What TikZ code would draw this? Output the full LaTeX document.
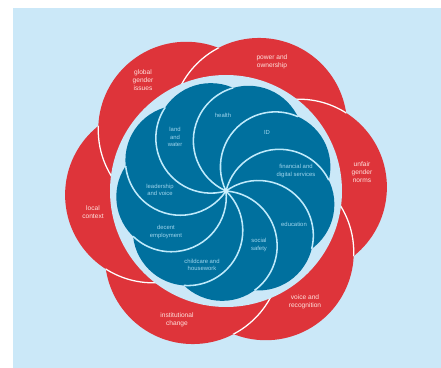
\documentclass[tikz,border=0pt]{standalone}
\usepackage{fontspec}
\setmainfont{Liberation Sans}
\definecolor{panel}{RGB}{203,232,248}
\definecolor{petalred}{RGB}{222,52,58}
\definecolor{swirlblue}{RGB}{0,112,158}
\definecolor{redtext}{RGB}{255,226,222}
\definecolor{bluetext}{RGB}{160,214,238}

\begin{document}
\begin{tikzpicture}[
    x=0.025cm, y=0.025cm,
    petal/.style={fill=petalred},
    seam/.style={draw=white, line width=0.9pt},
    ring/.style={fill=panel},
    swirl/.style={fill=swirlblue},
    curl/.style={draw=white!75!cyan, line width=1.1pt},
    redlabel/.style={font=\fontsize{4.7}{5.8}\selectfont, text=redtext, align=center, inner sep=0pt},
    bluelabel/.style={font=\fontsize{4.2}{5.3}\selectfont, text=bluetext, align=center, inner sep=0pt}
]

\useasboundingbox (-226,-177) rectangle (215,191);
\fill[panel] (-213,-177) rectangle (215,183);

% outer red petals
\coordinate (p0) at (3:73);
\coordinate (p1) at (63:73);
\coordinate (p2) at (123:73);
\coordinate (p3) at (183:73);
\coordinate (p4) at (243:73);
\coordinate (p5) at (303:73);

\fill[petal] (p0) circle (88);
\fill[petal] (p1) circle (88);
\fill[petal] (p2) circle (88);
\fill[petal] (p3) circle (88);
\fill[petal] (p4) circle (88);
\fill[petal] (p5) circle (88);

\begin{scope} \clip (p1) circle (88); \draw[seam] (p0) circle (88); \end{scope}
\begin{scope} \clip (p2) circle (88); \draw[seam] (p1) circle (88); \end{scope}
\begin{scope} \clip (p3) circle (88); \draw[seam] (p2) circle (88); \end{scope}
\begin{scope} \clip (p4) circle (88); \draw[seam] (p3) circle (88); \end{scope}
\begin{scope} \clip (p5) circle (88); \draw[seam] (p4) circle (88); \end{scope}
\begin{scope} \clip (p0) circle (88); \draw[seam] (p5) circle (88); \end{scope}

% gap ring
\coordinate (hub) at (0,0);
\fill[ring] (hub) circle (116);

% inner blue swirl
\coordinate (s0) at (-14:55);
\coordinate (s1) at (26:55);
\coordinate (s2) at (66:55);
\coordinate (s3) at (106:55);
\coordinate (s4) at (146:55);
\coordinate (s5) at (186:55);
\coordinate (s6) at (226:55);
\coordinate (s7) at (266:55);
\coordinate (s8) at (306:55);

\fill[swirl] (s0) circle (55);
\fill[swirl] (s1) circle (55);
\fill[swirl] (s2) circle (55);
\fill[swirl] (s3) circle (55);
\fill[swirl] (s4) circle (55);
\fill[swirl] (s5) circle (55);
\fill[swirl] (s6) circle (55);
\fill[swirl] (s7) circle (55);
\fill[swirl] (s8) circle (55);

\draw[curl] (hub) arc[start angle=166, end angle=26, radius=55];
\draw[curl] (hub) arc[start angle=206, end angle=66, radius=55];
\draw[curl] (hub) arc[start angle=246, end angle=106, radius=55];
\draw[curl] (hub) arc[start angle=286, end angle=146, radius=55];
\draw[curl] (hub) arc[start angle=326, end angle=186, radius=55];
\draw[curl] (hub) arc[start angle=366, end angle=226, radius=55];
\draw[curl] (hub) arc[start angle=406, end angle=266, radius=55];
\draw[curl] (hub) arc[start angle=446, end angle=306, radius=55];
\draw[curl] (hub) arc[start angle=486, end angle=346, radius=55];
\fill[white!80!cyan] (hub) circle (2.5);

% red labels
\node[redlabel] (global) at (-83,111) {global\\gender\\issues};
\node[redlabel] (power) at (46,129) {power and\\ownership};
\node[redlabel] (norms) at (136,19) {unfair\\gender\\norms};
\node[redlabel] (local) at (-133,-21) {local\\context};
\node[redlabel] (change) at (-49,-129) {institutional\\change};
\node[redlabel] (voice) at (79,-111) {voice and\\recognition};

% blue labels
\node[bluelabel] (land) at (-51,54) {land\\and\\water};
\node[bluelabel] (health) at (-3,76) {health};
\node[bluelabel] (id) at (41,59) {ID};
\node[bluelabel] (credit) at (70,20) {financial and\\digital services};
\node[bluelabel] (school) at (68,-33) {education};
\node[bluelabel] (safety) at (33,-54) {social\\safety};
\node[bluelabel] (care) at (-24,-74) {childcare and\\housework};
\node[bluelabel] (work) at (-60,-41) {decent\\employment};
\node[bluelabel] (lead) at (-66,1) {leadership\\and voice};

\end{tikzpicture}
\end{document}
